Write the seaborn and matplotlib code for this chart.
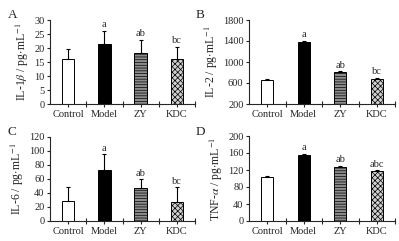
import pandas as pd
import numpy as np
import matplotlib
matplotlib.use("Agg")
import matplotlib.pyplot as plt
import seaborn as sns

groups = ["Control", "Model", "ZY", "KDC"]

il1b = [16.0, 21.3, 18.3, 16.2]
il1b_sd = [3.6, 4.8, 4.7, 4.3]
il2 = [655, 1375, 810, 670]
il2_sd = [15, 25, 15, 30]
il6 = [28.4, 72.8, 46.8, 26.5]
il6_sd = [20.0, 22.5, 12.8, 21.5]
tnf = [104, 156, 126, 117]
tnf_sd = [2, 2.5, 3, 2.5]

sig_a = ["", "a", "ab", "bc"]
sig_b = ["", "a", "ab", "bc"]
sig_c = ["", "a", "ab", "bc"]
sig_d = ["", "a", "ab", "abc"]

sns.set_style("ticks")
plt.rcParams["font.family"] = ["Liberation Serif", "DejaVu Serif"]
plt.rcParams["mathtext.fontset"] = "stix"
plt.rcParams["hatch.linewidth"] = 0.5

fig = plt.figure(figsize=(3.99, 2.41), dpi=100)
W, H = 399, 241

def add_ax(l, r, t, b):
    return fig.add_axes([l / W, 1 - b / H, (r - l) / W, (b - t) / H])

axes = [add_ax(50, 195, 20, 104), add_ax(249, 395, 20, 104),
        add_ax(50, 195, 137, 221), add_ax(249, 395, 136, 221)]
letter_pos = [(8, 15), (196, 15), (8, 132), (196, 132)]

panels = [
    ("A", il1b, il1b_sd, sig_a, "IL-1$\\beta$ / pg$\\cdot$mL$^{-1}$", (0, 30), [0, 5, 10, 15, 20, 25, 30]),
    ("B", il2, il2_sd, sig_b, "IL-2 / pg$\\cdot$mL$^{-1}$", (200, 1800), [200, 600, 1000, 1400, 1800]),
    ("C", il6, il6_sd, sig_c, "IL-6 / pg$\\cdot$mL$^{-1}$", (0, 120), [0, 20, 40, 60, 80, 100, 120]),
    ("D", tnf, tnf_sd, sig_d, "TNF-$\\alpha$ / pg$\\cdot$mL$^{-1}$", (0, 200), [0, 40, 80, 120, 160, 200]),
]

colors = ["white", "black", "#8c8c8c", "#d0d0d0"]
hatches = [None, None, "------", "xxxxxx"]

fs = 7.5
for ax, (lab, vals, sd, sig, ylab, ylim, yt), lp in zip(axes, panels, letter_pos):
    df = pd.DataFrame({"group": groups, "value": vals})
    sns.barplot(data=df, x="group", y="value", hue="group", palette=colors,
                width=0.34, edgecolor="black", linewidth=0.7, legend=False, ax=ax)
    for p, h in zip(ax.patches, hatches):
        if h:
            p.set_hatch(h)
    ax.errorbar(np.arange(4), vals, yerr=[np.zeros(4), sd], fmt="none",
                ecolor="black", elinewidth=0.8, capsize=1.5, capthick=0.8)
    rng = ylim[1] - ylim[0]
    for i, s in enumerate(sig):
        if s:
            ax.text(i, vals[i] + sd[i] + rng * 0.02, s, ha="center", va="bottom", fontsize=fs)
    ax.set_xlim(-0.5, 3.5)
    ax.set_ylim(*ylim)
    ax.set_yticks(yt)
    ax.set_xticks(np.arange(4))
    ax.set_xticks([0.5, 1.5, 2.5, 3.5], minor=True)
    ax.set_xlabel("")
    ax.set_ylabel(ylab, fontsize=fs + 1, labelpad=2)
    ax.tick_params(axis="both", labelsize=fs, width=0.8, length=2.5, pad=1.5)
    ax.tick_params(axis="x", which="minor", direction="inout", length=4, width=0.8)
    sns.despine(ax=ax)
    for s in ["left", "bottom"]:
        ax.spines[s].set_linewidth(0.8)
    fig.text(lp[0] / W, 1 - lp[1] / H, lab, fontsize=fs + 2, ha="left", va="center")

fig.savefig("out.png", dpi=100)
